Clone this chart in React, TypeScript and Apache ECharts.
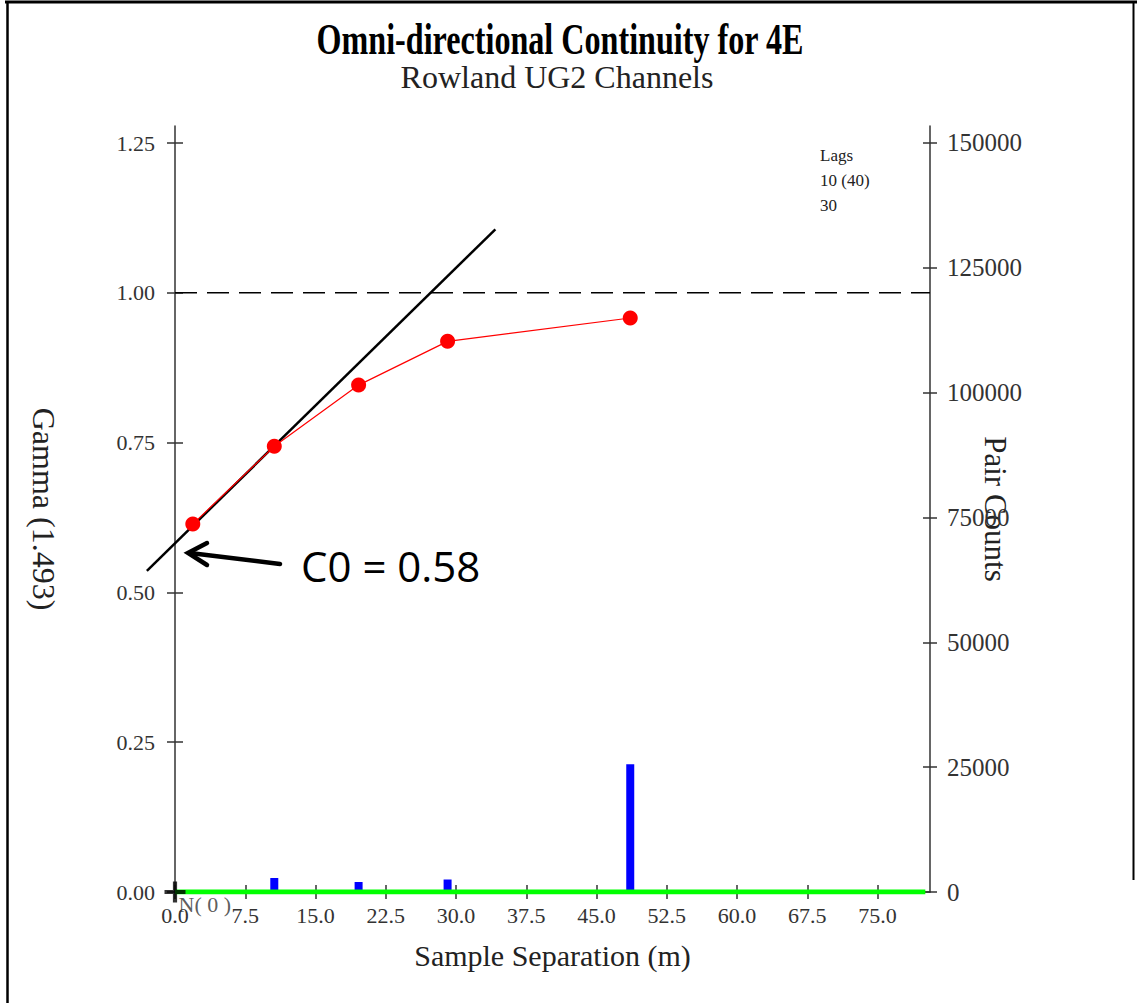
import React, { useEffect, useRef } from "react";
import * as echarts from "echarts";

// ---- data ----
const lagDistance = [1.9, 10.6, 19.6, 29.1, 48.6];
const gammaValues = [0.614, 0.744, 0.846, 0.919, 0.958];
const pairCounts = [300, 2800, 2000, 2500, 25600];
const fitLine = [
  [-3.0, 0.536],
  [34.2, 1.106],
];
const sillValue = 1.0;
const xTicks = [0, 7.5, 15, 22.5, 30, 37.5, 45, 52.5, 60, 67.5, 75];
const gammaTicks = [0, 0.25, 0.5, 0.75, 1.0, 1.25];
const pairTicks = [0, 25000, 50000, 75000, 100000, 125000, 150000];
const xMax = 80.6;
const gammaMax = 1.2784;
const pairMax = 153400;
const zeroLineEnd = 80.1;
const legendLines = ["Lags", "10 (40)", "30"];

const SERIF = '"Liberation Serif", "Times New Roman", serif';

export default function App() {
  const ref = useRef<HTMLDivElement>(null);
  useEffect(() => {
    document.body.style.margin = "0";
    const chart = echarts.init(ref.current!, null, { renderer: "svg" });
    const axisColor = "#333";
    const tickStyle = { color: axisColor, width: 1.5 };
    const tickLabel = { fontFamily: SERIF, fontSize: 22, color: "#333" };
    const option: any = {
      animation: false,
      backgroundColor: "#fff",
      grid: { left: 175, right: 207, top: 126, bottom: 111 },
      xAxis: [
        {
          type: "value",
          min: 0,
          max: xMax,
          position: "bottom",
          axisLine: { show: true, onZero: false, lineStyle: { color: axisColor, width: 1.5 } },
          axisTick: { show: true, length: 7, customValues: xTicks, lineStyle: tickStyle },
          axisLabel: {
            customValues: xTicks,
            formatter: (v: number) => v.toFixed(1),
            margin: 12,
            ...tickLabel,
          },
          splitLine: { show: false },
          name: "Sample Separation (m)",
          nameLocation: "middle",
          nameGap: 48,
          nameMoveOverlap: false,
          nameTextStyle: { fontFamily: SERIF, fontSize: 30, color: "#222" },
        },
        {
          type: "value",
          min: 0,
          max: xMax,
          position: "bottom",
          axisLine: { show: false, onZero: false },
          axisTick: { show: true, inside: true, length: 7, customValues: xTicks, lineStyle: tickStyle },
          axisLabel: { show: false },
          splitLine: { show: false },
        },
      ],
      yAxis: [
        {
          type: "value",
          min: 0,
          max: gammaMax,
          position: "left",
          axisLine: { show: true, onZero: false, lineStyle: { color: axisColor, width: 1.5 } },
          axisTick: { show: true, length: 8, customValues: gammaTicks, lineStyle: tickStyle },
          axisLabel: {
            customValues: gammaTicks,
            formatter: (v: number) => v.toFixed(2),
            margin: 20,
            ...tickLabel,
          },
          splitLine: { show: false },
          name: "Gamma (1.493)",
          nameLocation: "middle",
          nameRotate: -90,
          nameGap: 115,
          nameMoveOverlap: false,
          nameTextStyle: { fontFamily: SERIF, fontSize: 32, color: "#222" },
        },
        {
          type: "value",
          min: 0,
          max: pairMax,
          position: "right",
          axisLine: { show: true, onZero: false, lineStyle: { color: axisColor, width: 1.5 } },
          axisTick: { show: true, length: 7, customValues: pairTicks, lineStyle: tickStyle },
          axisLabel: {
            customValues: pairTicks,
            formatter: (v: number) => String(v),
            margin: 17,
            ...tickLabel,
            fontSize: 25,
          },
          splitLine: { show: false },
          name: "Pair Counts",
          nameLocation: "middle",
          nameRotate: -90,
          nameGap: 50,
          nameMoveOverlap: false,
          nameTextStyle: { fontFamily: SERIF, fontSize: 31, color: "#222" },
        },
        {
          type: "value",
          min: 0,
          max: gammaMax,
          position: "left",
          axisLine: { show: false, onZero: false },
          axisTick: { show: true, inside: true, length: 8, customValues: gammaTicks, lineStyle: tickStyle },
          axisLabel: { show: false },
          splitLine: { show: false },
        },
        {
          type: "value",
          min: 0,
          max: pairMax,
          position: "right",
          axisLine: { show: false, onZero: false },
          axisTick: { show: true, inside: true, length: 7, customValues: pairTicks, lineStyle: tickStyle },
          axisLabel: { show: false },
          splitLine: { show: false },
        },
      ],
      graphic: [
        { id: "frameTop", type: "line", shape: { x1: 5, y1: 2, x2: 1137, y2: 2 }, style: { stroke: "#000", lineWidth: 3 } },
        { id: "frameLeft", type: "line", shape: { x1: 7.5, y1: 2, x2: 7.5, y2: 1003 }, style: { stroke: "#000", lineWidth: 2.5 } },
        { id: "frameRight", type: "line", shape: { x1: 1133.5, y1: 2, x2: 1133.5, y2: 880 }, style: { stroke: "#000", lineWidth: 2 } },
        {
          id: "title",
          type: "text",
          x: 560,
          y: 39,
          scaleX: 0.73,
          style: {
            text: "Omni-directional Continuity for 4E",
            font: 'bold 44px "Liberation Serif"',
            fill: "#000",
            align: "center",
            verticalAlign: "middle",
          },
        },
        {
          id: "subtitle",
          type: "text",
          x: 557,
          y: 77,
          style: {
            text: "Rowland UG2 Channels",
            font: '32px "Liberation Serif"',
            fill: "#222",
            align: "center",
            verticalAlign: "middle",
          },
        },
        ...legendLines.map((t, i) => ({
          id: "legend" + i,
          type: "text",
          x: 820,
          y: 155 + i * 25,
          style: { text: t, font: '17px "Liberation Serif"', fill: "#222", align: "left", verticalAlign: "middle" },
        })),
        {
          id: "arrowShaft",
          type: "polyline",
          shape: { points: [[280, 564], [190, 553]] },
          style: { stroke: "#000", lineWidth: 4.5, lineCap: "round" },
        },
        {
          id: "arrowHead",
          type: "polyline",
          shape: { points: [[207, 543], [188, 553], [207, 565]] },
          style: { stroke: "#000", lineWidth: 4.5, fill: null, lineCap: "round", lineJoin: "miter" },
        },
        {
          id: "c0text",
          type: "text",
          x: 301,
          y: 565,
          style: {
            text: "C0 = 0.58",
            font: '42px "Open Sans"',
            fill: "#000",
            align: "left",
            verticalAlign: "middle",
          },
        },
      ],
      series: [
        {
          type: "line",
          xAxisIndex: 0,
          yAxisIndex: 0,
          data: [
            [0, sillValue],
            [xMax, sillValue],
          ],
          symbol: "none",
          lineStyle: { color: "#000", width: 1.5, type: [22, 10] },
          silent: true,
        },
        {
          type: "bar",
          xAxisIndex: 0,
          yAxisIndex: 1,
          data: lagDistance.map((x, i) => [x, pairCounts[i]]),
          barWidth: 8,
          itemStyle: { color: "#0000ff" },
        },
        {
          type: "line",
          xAxisIndex: 0,
          yAxisIndex: 0,
          data: [
            [0, 0],
            [zeroLineEnd, 0],
          ],
          symbol: "none",
          lineStyle: { color: "#00ff00", width: 5 },
        },
        {
          type: "line",
          xAxisIndex: 0,
          yAxisIndex: 0,
          data: lagDistance.map((x, i) => [x, gammaValues[i]]),
          symbol: "circle",
          symbolSize: 15,
          itemStyle: { color: "#ff0000" },
          lineStyle: { color: "#ff0000", width: 1.2 },
        },
        {
          type: "scatter",
          xAxisIndex: 0,
          yAxisIndex: 0,
          data: [[0, 0]],
          symbol: "path://M-1,-5H1V-1H5V1H1V5H-1V1H-5V-1H-1Z",
          symbolSize: 21,
          clip: false,
          z: 10,
          itemStyle: { color: "#000" },
          label: {
            show: true,
            formatter: "N( 0 )",
            position: [14, 12],
            fontFamily: SERIF,
            fontSize: 22,
            color: "#333",
          },
        },
      ],
    };
    chart.setOption(option);
    // Fit line: endpoints converted through the chart's own scales
    const p1 = chart.convertToPixel({ xAxisIndex: 0, yAxisIndex: 0 }, fitLine[0]) as number[];
    const p2 = chart.convertToPixel({ xAxisIndex: 0, yAxisIndex: 0 }, fitLine[1]) as number[];
    chart.setOption({
      graphic: [
        {
          id: "fitLine",
          type: "line",
          z: 3,
          shape: { x1: p1[0], y1: p1[1], x2: p2[0], y2: p2[1] },
          style: { stroke: "#000", lineWidth: 2.5 },
        },
      ],
    });
    return () => chart.dispose();
  }, []);
  return (
    <div
      ref={ref}
      style={{ position: "absolute", left: 0, top: 0, width: 1137, height: 1003 }}
    />
  );
}
